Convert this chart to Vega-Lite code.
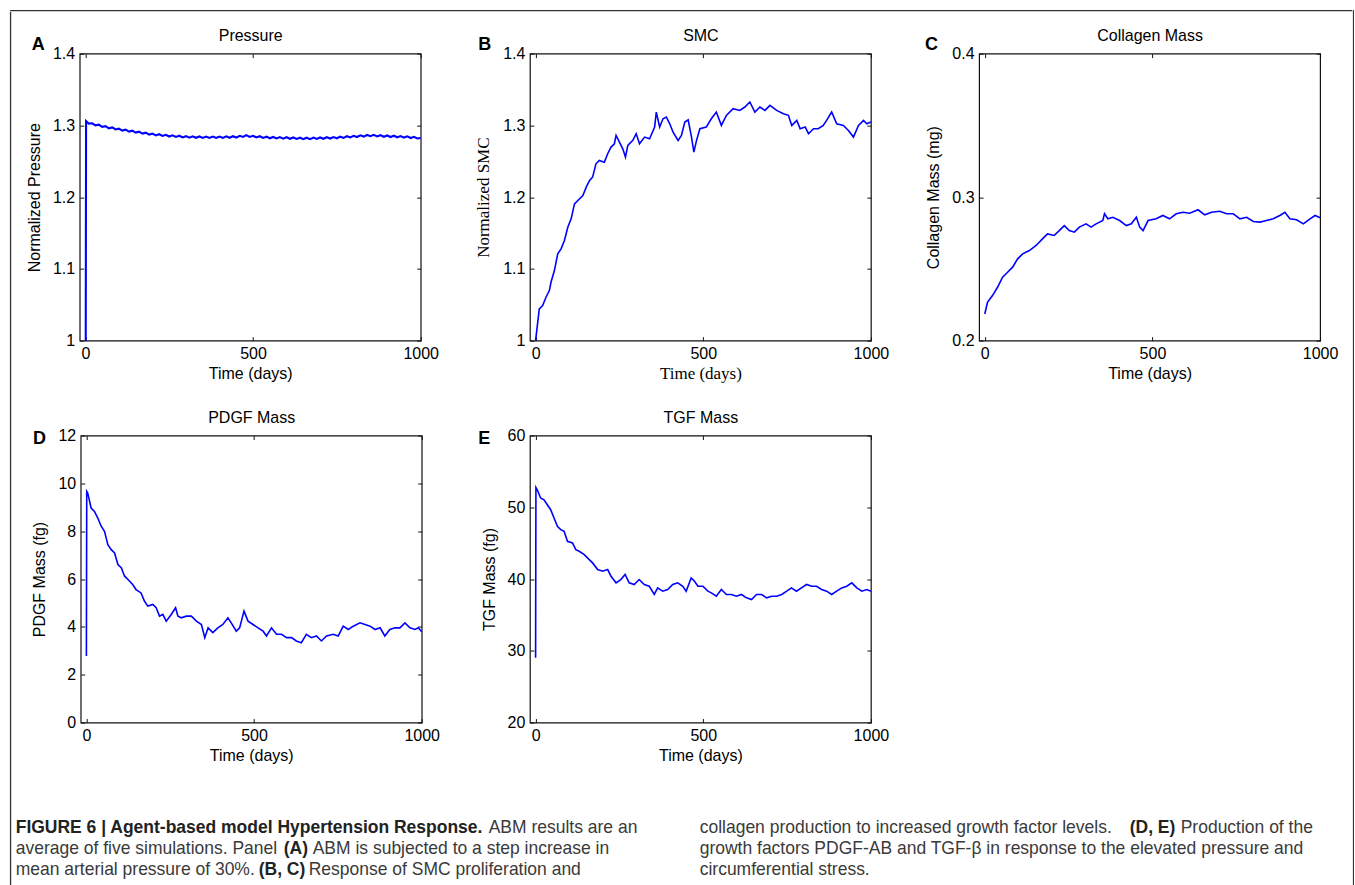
{
  "$schema": "https://vega.github.io/schema/vega-lite/v6.json",
  "padding": {"left": 9.35, "top": 9.35, "right": 0, "bottom": 0},
  "autosize": {"type": "pad"},
  "background": "white",
  "spacing": 0,
  "datasets": {
    "pressure": [
      {"t":1,"v":1.0},{"t":2,"v":1.306},{"t":10,"v":1.3025},{"t":20,"v":1.303},{"t":30,"v":1.3},{"t":40,"v":1.301},{"t":50,"v":1.298},{"t":60,"v":1.299},{"t":70,"v":1.296},{"t":80,"v":1.2972},{"t":90,"v":1.2943},{"t":100,"v":1.2955},{"t":110,"v":1.2928},{"t":120,"v":1.2941},{"t":130,"v":1.2914},{"t":140,"v":1.2927},{"t":150,"v":1.29},{"t":160,"v":1.2913},{"t":170,"v":1.2886},{"t":180,"v":1.2899},{"t":190,"v":1.2872},{"t":200,"v":1.2885},{"t":210,"v":1.2861},{"t":220,"v":1.2877},{"t":230,"v":1.2853},{"t":240,"v":1.2869},{"t":250,"v":1.2845},{"t":260,"v":1.2862},{"t":270,"v":1.2839},{"t":280,"v":1.2856},{"t":290,"v":1.2833},{"t":300,"v":1.285},{"t":310,"v":1.2829},{"t":320,"v":1.2848},{"t":330,"v":1.2827},{"t":340,"v":1.2846},{"t":350,"v":1.2825},{"t":360,"v":1.2845},{"t":370,"v":1.2825},{"t":380,"v":1.2845},{"t":390,"v":1.2825},{"t":400,"v":1.2845},{"t":410,"v":1.2826},{"t":420,"v":1.2847},{"t":430,"v":1.2828},{"t":440,"v":1.2849},{"t":450,"v":1.283},{"t":460,"v":1.2855},{"t":470,"v":1.284},{"t":480,"v":1.2865},{"t":490,"v":1.284},{"t":500,"v":1.2855},{"t":510,"v":1.2832},{"t":520,"v":1.2849},{"t":530,"v":1.2826},{"t":540,"v":1.2843},{"t":550,"v":1.282},{"t":560,"v":1.2839},{"t":570,"v":1.2818},{"t":580,"v":1.2837},{"t":590,"v":1.2816},{"t":600,"v":1.2835},{"t":610,"v":1.2814},{"t":620,"v":1.2832},{"t":630,"v":1.2811},{"t":640,"v":1.2829},{"t":650,"v":1.2808},{"t":660,"v":1.2829},{"t":670,"v":1.2809},{"t":680,"v":1.283},{"t":690,"v":1.2811},{"t":700,"v":1.2832},{"t":710,"v":1.2814},{"t":720,"v":1.2835},{"t":730,"v":1.2817},{"t":740,"v":1.2838},{"t":750,"v":1.282},{"t":760,"v":1.2843},{"t":770,"v":1.2826},{"t":780,"v":1.2849},{"t":790,"v":1.2832},{"t":800,"v":1.2855},{"t":810,"v":1.2838},{"t":820,"v":1.2861},{"t":830,"v":1.2844},{"t":840,"v":1.2867},{"t":850,"v":1.285},{"t":860,"v":1.2868},{"t":870,"v":1.2846},{"t":880,"v":1.2864},{"t":890,"v":1.2842},{"t":900,"v":1.286},{"t":910,"v":1.2838},{"t":920,"v":1.2856},{"t":930,"v":1.2834},{"t":940,"v":1.2852},{"t":950,"v":1.283},{"t":960,"v":1.2847},{"t":970,"v":1.2824},{"t":980,"v":1.2841},{"t":990,"v":1.2818},{"t":1000,"v":1.2825}
    ],
    "smc": [
      {"t":0,"v":1.0},{"t":11,"v":1.0442},{"t":21,"v":1.0488},{"t":31,"v":1.0605},{"t":41,"v":1.0698},{"t":46,"v":1.0814},{"t":56,"v":1.0977},{"t":66,"v":1.1209},{"t":76,"v":1.1279},{"t":86,"v":1.1395},{"t":96,"v":1.1581},{"t":106,"v":1.1698},{"t":116,"v":1.1907},{"t":126,"v":1.1953},{"t":141,"v":1.2023},{"t":151,"v":1.214},{"t":161,"v":1.2233},{"t":170,"v":1.2279},{"t":180,"v":1.2465},{"t":190,"v":1.2512},{"t":205,"v":1.2488},{"t":215,"v":1.2605},{"t":225,"v":1.2698},{"t":235,"v":1.2744},{"t":240,"v":1.286},{"t":250,"v":1.2767},{"t":260,"v":1.2674},{"t":268,"v":1.2558},{"t":275,"v":1.2721},{"t":290,"v":1.2791},{"t":300,"v":1.2884},{"t":310,"v":1.2744},{"t":325,"v":1.2837},{"t":340,"v":1.2814},{"t":355,"v":1.2977},{"t":360,"v":1.3186},{"t":370,"v":1.2977},{"t":380,"v":1.3093},{"t":390,"v":1.3116},{"t":400,"v":1.3023},{"t":410,"v":1.2907},{"t":425,"v":1.2791},{"t":435,"v":1.286},{"t":445,"v":1.3047},{"t":455,"v":1.3079},{"t":465,"v":1.2837},{"t":472,"v":1.2628},{"t":480,"v":1.2791},{"t":490,"v":1.2953},{"t":509,"v":1.2977},{"t":524,"v":1.3093},{"t":539,"v":1.3186},{"t":554,"v":1.3},{"t":569,"v":1.314},{"t":589,"v":1.3233},{"t":609,"v":1.3209},{"t":624,"v":1.3256},{"t":639,"v":1.3326},{"t":654,"v":1.3186},{"t":669,"v":1.3256},{"t":684,"v":1.3209},{"t":699,"v":1.3279},{"t":719,"v":1.3209},{"t":739,"v":1.3163},{"t":754,"v":1.314},{"t":764,"v":1.3},{"t":779,"v":1.307},{"t":789,"v":1.2953},{"t":804,"v":1.2977},{"t":814,"v":1.2884},{"t":829,"v":1.2953},{"t":843,"v":1.2953},{"t":858,"v":1.3},{"t":868,"v":1.307},{"t":883,"v":1.3186},{"t":898,"v":1.3023},{"t":918,"v":1.3},{"t":933,"v":1.293},{"t":948,"v":1.2837},{"t":963,"v":1.3},{"t":978,"v":1.307},{"t":988,"v":1.3023},{"t":1000,"v":1.3047}
    ],
    "collagen": [
      {"t":0,"v":0.2186},{"t":8,"v":0.2267},{"t":23,"v":0.2314},{"t":38,"v":0.2372},{"t":53,"v":0.2442},{"t":68,"v":0.2477},{"t":83,"v":0.2512},{"t":98,"v":0.257},{"t":113,"v":0.2605},{"t":133,"v":0.2628},{"t":153,"v":0.2663},{"t":172,"v":0.2709},{"t":187,"v":0.2744},{"t":207,"v":0.2733},{"t":222,"v":0.2767},{"t":237,"v":0.2802},{"t":252,"v":0.2767},{"t":267,"v":0.2756},{"t":282,"v":0.2791},{"t":302,"v":0.2814},{"t":317,"v":0.2791},{"t":332,"v":0.2814},{"t":352,"v":0.2837},{"t":357,"v":0.2884},{"t":367,"v":0.2849},{"t":382,"v":0.286},{"t":402,"v":0.2837},{"t":422,"v":0.2802},{"t":437,"v":0.2814},{"t":452,"v":0.286},{"t":462,"v":0.2791},{"t":472,"v":0.2767},{"t":487,"v":0.2837},{"t":511,"v":0.2849},{"t":531,"v":0.2872},{"t":551,"v":0.2849},{"t":571,"v":0.2884},{"t":591,"v":0.2895},{"t":611,"v":0.2888},{"t":636,"v":0.2912},{"t":656,"v":0.2877},{"t":676,"v":0.2895},{"t":701,"v":0.2902},{"t":721,"v":0.2884},{"t":741,"v":0.2884},{"t":761,"v":0.2849},{"t":781,"v":0.286},{"t":801,"v":0.283},{"t":821,"v":0.2826},{"t":840,"v":0.2837},{"t":860,"v":0.2849},{"t":880,"v":0.2872},{"t":895,"v":0.2895},{"t":910,"v":0.2849},{"t":930,"v":0.2842},{"t":950,"v":0.2814},{"t":970,"v":0.2849},{"t":985,"v":0.2872},{"t":1000,"v":0.2856}
    ],
    "pdgf": [
      {"t":0,"v":2.78},{"t":1,"v":9.67},{"t":4,"v":9.6},{"t":14,"v":8.97},{"t":24,"v":8.83},{"t":34,"v":8.55},{"t":44,"v":8.21},{"t":54,"v":8.0},{"t":64,"v":7.44},{"t":74,"v":7.23},{"t":84,"v":7.09},{"t":94,"v":6.61},{"t":104,"v":6.47},{"t":114,"v":6.12},{"t":124,"v":5.98},{"t":138,"v":5.77},{"t":148,"v":5.56},{"t":163,"v":5.42},{"t":173,"v":5.08},{"t":183,"v":4.87},{"t":198,"v":4.94},{"t":208,"v":4.8},{"t":218,"v":4.45},{"t":228,"v":4.52},{"t":238,"v":4.24},{"t":253,"v":4.52},{"t":266,"v":4.8},{"t":273,"v":4.45},{"t":283,"v":4.38},{"t":298,"v":4.45},{"t":313,"v":4.45},{"t":328,"v":4.24},{"t":343,"v":4.1},{"t":353,"v":3.55},{"t":363,"v":3.96},{"t":377,"v":3.76},{"t":392,"v":3.96},{"t":407,"v":4.1},{"t":422,"v":4.38},{"t":432,"v":4.17},{"t":447,"v":3.82},{"t":457,"v":3.96},{"t":470,"v":4.66},{"t":482,"v":4.24},{"t":497,"v":4.1},{"t":512,"v":3.96},{"t":527,"v":3.82},{"t":537,"v":3.62},{"t":552,"v":3.96},{"t":567,"v":3.69},{"t":582,"v":3.69},{"t":597,"v":3.55},{"t":612,"v":3.55},{"t":626,"v":3.41},{"t":641,"v":3.34},{"t":656,"v":3.69},{"t":671,"v":3.55},{"t":686,"v":3.62},{"t":701,"v":3.41},{"t":716,"v":3.62},{"t":736,"v":3.69},{"t":751,"v":3.62},{"t":766,"v":4.03},{"t":781,"v":3.89},{"t":796,"v":4.03},{"t":816,"v":4.17},{"t":831,"v":4.1},{"t":846,"v":4.03},{"t":861,"v":3.89},{"t":876,"v":3.96},{"t":890,"v":3.62},{"t":905,"v":3.89},{"t":920,"v":3.96},{"t":935,"v":3.96},{"t":950,"v":4.17},{"t":965,"v":3.96},{"t":980,"v":3.89},{"t":990,"v":3.96},{"t":1000,"v":3.8}
    ],
    "tgf": [
      {"t":0,"v":29.04},{"t":1,"v":52.77},{"t":5,"v":52.44},{"t":15,"v":51.29},{"t":25,"v":51.05},{"t":35,"v":50.36},{"t":45,"v":49.66},{"t":55,"v":48.5},{"t":65,"v":47.35},{"t":75,"v":46.88},{"t":85,"v":46.65},{"t":95,"v":45.26},{"t":110,"v":45.03},{"t":120,"v":44.1},{"t":130,"v":43.87},{"t":145,"v":43.41},{"t":160,"v":42.71},{"t":170,"v":42.25},{"t":185,"v":41.32},{"t":200,"v":41.09},{"t":215,"v":41.32},{"t":225,"v":40.39},{"t":240,"v":39.47},{"t":254,"v":39.93},{"t":267,"v":40.63},{"t":279,"v":39.47},{"t":294,"v":39.24},{"t":309,"v":39.93},{"t":324,"v":39.24},{"t":339,"v":39.0},{"t":354,"v":37.85},{"t":364,"v":38.77},{"t":379,"v":38.31},{"t":394,"v":38.54},{"t":409,"v":39.24},{"t":424,"v":39.47},{"t":439,"v":39.0},{"t":449,"v":38.31},{"t":464,"v":40.16},{"t":474,"v":39.7},{"t":484,"v":39.0},{"t":499,"v":39.0},{"t":514,"v":38.31},{"t":524,"v":38.08},{"t":539,"v":37.61},{"t":554,"v":38.54},{"t":569,"v":37.85},{"t":584,"v":37.85},{"t":599,"v":37.61},{"t":614,"v":37.85},{"t":629,"v":37.38},{"t":644,"v":37.15},{"t":659,"v":37.85},{"t":674,"v":37.85},{"t":689,"v":37.38},{"t":704,"v":37.61},{"t":719,"v":37.61},{"t":734,"v":37.85},{"t":749,"v":38.31},{"t":763,"v":38.77},{"t":778,"v":38.31},{"t":793,"v":38.77},{"t":808,"v":39.24},{"t":823,"v":39.0},{"t":838,"v":39.0},{"t":853,"v":38.54},{"t":868,"v":38.31},{"t":883,"v":37.85},{"t":898,"v":38.31},{"t":913,"v":38.77},{"t":928,"v":39.0},{"t":943,"v":39.47},{"t":958,"v":38.77},{"t":973,"v":38.31},{"t":988,"v":38.54},{"t":1000,"v":38.31}
    ]
  },
  "hconcat": [
    {
      "spacing": 0,
      "vconcat": [
        {"width": 1341, "height": 0.01, "data": {"values": []}, "mark": "point", "view": {"stroke": "#333333", "strokeWidth": 1.3}},
        {
          "spacing": 3.35,
          "hconcat": [
            {"width": 0.01, "height": 900, "data": {"values": []}, "mark": "point", "view": {"stroke": "#333333", "strokeWidth": 1.3}},
            {
              "spacing": 13.3,
              "vconcat": [
                {"width": 0.01, "height": 0.01, "data": {"values": []}, "mark": "point", "view": {"stroke": "white", "strokeWidth": 0.01}},
                {
                  "spacing": 51,
                  "vconcat": [
                    {
                      "spacing": 25.9,
                      "vconcat": [
                        {
                          "spacing": 9,
                          "hconcat": [
                            {"width": 0.01, "height": 0.01, "data": {"values": []}, "mark": "point", "view": {"stroke": "white", "strokeWidth": 0.01}},
                            {
                              "spacing": 34.2,
                              "hconcat": [
                                {
                                  "width": 341, "height": 287,
                                  "layer": [
                                    {"data": {"name": "pressure"}, "mark": {"type": "line", "color": "#0000ff", "strokeWidth": 2.1},
                                     "encoding": {
                                       "x": {"field": "t", "type": "quantitative", "scale": {"domain": [-17, 1000], "nice": false, "zero": false}, "axis": {"orient": "bottom", "values": [0, 500, 1000], "format": "d", "title": "Time (days)"}},
                                       "y": {"field": "v", "type": "quantitative", "scale": {"domain": [1, 1.4], "nice": false, "zero": false}, "axis": {"orient": "left", "values": [1, 1.1, 1.2, 1.3, 1.4], "format": "~g", "title": "Normalized Pressure"}}
                                     }},
                                    {"data": {"values": [{"label": "A"}]}, "mark": {"type": "text", "font": "Liberation Sans", "fontWeight": "bold", "fontSize": 18, "align": "left", "baseline": "alphabetic", "color": "#000"},
                                     "encoding": {
                                       "x": {"datum": -160, "type": "quantitative", "scale": {"domain": [-17, 1000], "nice": false, "zero": false}, "axis": {"orient": "top", "values": [0, 500, 1000], "labels": false, "title": "Pressure"}},
                                       "y": {"datum": 1.4056, "type": "quantitative", "scale": {"domain": [1, 1.4], "nice": false, "zero": false}, "axis": {"orient": "right", "values": [1, 1.1, 1.2, 1.3, 1.4], "labels": false, "title": null}},
                                       "text": {"field": "label"}
                                     }}
                                  ],
                                  "resolve": {"axis": {"x": "independent", "y": "independent"}}
                                },
                                {
                                  "width": 341, "height": 287,
                                  "layer": [
                                    {"data": {"name": "smc"}, "mark": {"type": "line", "color": "#0000ff", "strokeWidth": 1.6},
                                     "encoding": {
                                       "x": {"field": "t", "type": "quantitative", "scale": {"domain": [-17, 1000], "nice": false, "zero": false}, "axis": {"orient": "bottom", "values": [0, 500, 1000], "format": "d", "title": "Time (days)", "titleFont": "Liberation Serif", "titleFontSize": 17}},
                                       "y": {"field": "v", "type": "quantitative", "scale": {"domain": [1, 1.4], "nice": false, "zero": false}, "axis": {"orient": "left", "values": [1, 1.1, 1.2, 1.3, 1.4], "format": "~g", "title": "Normalized SMC", "titleFont": "Liberation Serif", "titleFontSize": 17}}
                                     }},
                                    {"data": {"values": [{"label": "B"}]}, "mark": {"type": "text", "font": "Liberation Sans", "fontWeight": "bold", "fontSize": 18, "align": "left", "baseline": "alphabetic", "color": "#000"},
                                     "encoding": {
                                       "x": {"datum": -171, "type": "quantitative", "scale": {"domain": [-17, 1000], "nice": false, "zero": false}, "axis": {"orient": "top", "values": [0, 500, 1000], "labels": false, "title": "SMC"}},
                                       "y": {"datum": 1.4056, "type": "quantitative", "scale": {"domain": [1, 1.4], "nice": false, "zero": false}, "axis": {"orient": "right", "values": [1, 1.1, 1.2, 1.3, 1.4], "labels": false, "title": null}},
                                       "text": {"field": "label"}
                                     }}
                                  ],
                                  "resolve": {"axis": {"x": "independent", "y": "independent"}}
                                },
                                {
                                  "width": 341, "height": 287,
                                  "layer": [
                                    {"data": {"name": "collagen"}, "mark": {"type": "line", "color": "#0000ff", "strokeWidth": 1.6},
                                     "encoding": {
                                       "x": {"field": "t", "type": "quantitative", "scale": {"domain": [-17, 1000], "nice": false, "zero": false}, "axis": {"orient": "bottom", "values": [0, 500, 1000], "format": "d", "title": "Time (days)"}},
                                       "y": {"field": "v", "type": "quantitative", "scale": {"domain": [0.2, 0.4], "nice": false, "zero": false}, "axis": {"orient": "left", "values": [0.2, 0.3, 0.4], "format": "~g", "title": "Collagen Mass (mg)"}}
                                     }},
                                    {"data": {"values": [{"label": "C"}]}, "mark": {"type": "text", "font": "Liberation Sans", "fontWeight": "bold", "fontSize": 18, "align": "left", "baseline": "alphabetic", "color": "#000"},
                                     "encoding": {
                                       "x": {"datum": -178, "type": "quantitative", "scale": {"domain": [-17, 1000], "nice": false, "zero": false}, "axis": {"orient": "top", "values": [0, 500, 1000], "labels": false, "title": "Collagen Mass"}},
                                       "y": {"datum": 0.4028, "type": "quantitative", "scale": {"domain": [0.2, 0.4], "nice": false, "zero": false}, "axis": {"orient": "right", "values": [0.2, 0.3, 0.4], "labels": false, "title": null}},
                                       "text": {"field": "label"}
                                     }}
                                  ],
                                  "resolve": {"axis": {"x": "independent", "y": "independent"}}
                                }
                              ]
                            }
                          ]
                        },
                        {
                          "spacing": 14,
                          "hconcat": [
                            {"width": 0.01, "height": 0.01, "data": {"values": []}, "mark": "point", "view": {"stroke": "white", "strokeWidth": 0.01}},
                            {
                              "spacing": 36.2,
                              "hconcat": [
                                {
                                  "width": 341, "height": 287,
                                  "layer": [
                                    {"data": {"name": "pdgf"}, "mark": {"type": "line", "color": "#0000ff", "strokeWidth": 1.6},
                                     "encoding": {
                                       "x": {"field": "t", "type": "quantitative", "scale": {"domain": [-17, 1000], "nice": false, "zero": false}, "axis": {"orient": "bottom", "values": [0, 500, 1000], "format": "d", "title": "Time (days)"}},
                                       "y": {"field": "v", "type": "quantitative", "scale": {"domain": [0, 12], "nice": false, "zero": false}, "axis": {"orient": "left", "values": [0, 2, 4, 6, 8, 10, 12], "format": "d", "title": "PDGF Mass (fg)"}}
                                     }},
                                    {"data": {"values": [{"label": "D"}]}, "mark": {"type": "text", "font": "Liberation Sans", "fontWeight": "bold", "fontSize": 18, "align": "left", "baseline": "alphabetic", "color": "#000"},
                                     "encoding": {
                                       "x": {"datum": -159, "type": "quantitative", "scale": {"domain": [-17, 1000], "nice": false, "zero": false}, "axis": {"orient": "top", "values": [0, 500, 1000], "labels": false, "title": "PDGF Mass"}},
                                       "y": {"datum": 11.64, "type": "quantitative", "scale": {"domain": [0, 12], "nice": false, "zero": false}, "axis": {"orient": "right", "values": [0, 2, 4, 6, 8, 10, 12], "labels": false, "title": null}},
                                       "text": {"field": "label"}
                                     }}
                                  ],
                                  "resolve": {"axis": {"x": "independent", "y": "independent"}}
                                },
                                {
                                  "width": 341, "height": 287,
                                  "layer": [
                                    {"data": {"name": "tgf"}, "mark": {"type": "line", "color": "#0000ff", "strokeWidth": 1.6},
                                     "encoding": {
                                       "x": {"field": "t", "type": "quantitative", "scale": {"domain": [-17, 1000], "nice": false, "zero": false}, "axis": {"orient": "bottom", "values": [0, 500, 1000], "format": "d", "title": "Time (days)"}},
                                       "y": {"field": "v", "type": "quantitative", "scale": {"domain": [20, 60], "nice": false, "zero": false}, "axis": {"orient": "left", "values": [20, 30, 40, 50, 60], "format": "d", "title": "TGF Mass (fg)"}}
                                     }},
                                    {"data": {"values": [{"label": "E"}]}, "mark": {"type": "text", "font": "Liberation Sans", "fontWeight": "bold", "fontSize": 18, "align": "left", "baseline": "alphabetic", "color": "#000"},
                                     "encoding": {
                                       "x": {"datum": -171, "type": "quantitative", "scale": {"domain": [-17, 1000], "nice": false, "zero": false}, "axis": {"orient": "top", "values": [0, 500, 1000], "labels": false, "title": "TGF Mass"}},
                                       "y": {"datum": 58.8, "type": "quantitative", "scale": {"domain": [20, 60], "nice": false, "zero": false}, "axis": {"orient": "right", "values": [20, 30, 40, 50, 60], "labels": false, "title": null}},
                                       "text": {"field": "label"}
                                     }}
                                  ],
                                  "resolve": {"axis": {"x": "independent", "y": "independent"}}
                                }
                              ]
                            }
                          ]
                        }
                      ]
                    },
                    {
                      "width": 1310, "height": 66,
                      "view": {"stroke": null},
                      "encoding": {
                        "x": {"type": "quantitative", "scale": {"domain": [0, 1310], "nice": false, "zero": false}, "axis": null},
                        "y": {"type": "quantitative", "scale": {"domain": [0, 66], "reverse": true, "nice": false, "zero": false}, "axis": null},
                        "text": {"field": "text"}
                      },
                      "layer": [
                        {"data": {"values": [{"text": "FIGURE 6 | Agent-based model Hypertension Response."}]}, "mark": {"type": "text", "align": "left", "baseline": "alphabetic", "font": "Liberation Sans", "fontWeight": "bold", "fontSize": 17.5, "color": "#222"}, "encoding": {"x": {"datum": 0}, "y": {"datum": 17}}},
                        {"data": {"values": [{"text": "ABM results are an"}]}, "mark": {"type": "text", "align": "left", "baseline": "alphabetic", "font": "Liberation Sans", "fontSize": 17.5, "color": "#3a3a3a"}, "encoding": {"x": {"datum": 473}, "y": {"datum": 17}}},
                        {"data": {"values": [{"text": "average of five simulations. Panel"}]}, "mark": {"type": "text", "align": "left", "baseline": "alphabetic", "font": "Liberation Sans", "fontSize": 17.5, "color": "#3a3a3a"}, "encoding": {"x": {"datum": 0}, "y": {"datum": 38}}},
                        {"data": {"values": [{"text": "(A)"}]}, "mark": {"type": "text", "align": "left", "baseline": "alphabetic", "font": "Liberation Sans", "fontWeight": "bold", "fontSize": 17.5, "color": "#222"}, "encoding": {"x": {"datum": 268}, "y": {"datum": 38}}},
                        {"data": {"values": [{"text": "ABM is subjected to a step increase in"}]}, "mark": {"type": "text", "align": "left", "baseline": "alphabetic", "font": "Liberation Sans", "fontSize": 17.5, "color": "#3a3a3a"}, "encoding": {"x": {"datum": 297}, "y": {"datum": 38}}},
                        {"data": {"values": [{"text": "mean arterial pressure of 30%."}]}, "mark": {"type": "text", "align": "left", "baseline": "alphabetic", "font": "Liberation Sans", "fontSize": 17.5, "color": "#3a3a3a"}, "encoding": {"x": {"datum": 0}, "y": {"datum": 59}}},
                        {"data": {"values": [{"text": "(B, C)"}]}, "mark": {"type": "text", "align": "left", "baseline": "alphabetic", "font": "Liberation Sans", "fontWeight": "bold", "fontSize": 17.5, "color": "#222"}, "encoding": {"x": {"datum": 243}, "y": {"datum": 59}}},
                        {"data": {"values": [{"text": "Response of SMC proliferation and"}]}, "mark": {"type": "text", "align": "left", "baseline": "alphabetic", "font": "Liberation Sans", "fontSize": 17.5, "color": "#3a3a3a"}, "encoding": {"x": {"datum": 293}, "y": {"datum": 59}}},
                        {"data": {"values": [{"text": "collagen production to increased growth factor levels."}]}, "mark": {"type": "text", "align": "left", "baseline": "alphabetic", "font": "Liberation Sans", "fontSize": 17.5, "color": "#3a3a3a"}, "encoding": {"x": {"datum": 684}, "y": {"datum": 17}}},
                        {"data": {"values": [{"text": "(D, E)"}]}, "mark": {"type": "text", "align": "left", "baseline": "alphabetic", "font": "Liberation Sans", "fontWeight": "bold", "fontSize": 17.5, "color": "#222"}, "encoding": {"x": {"datum": 1114}, "y": {"datum": 17}}},
                        {"data": {"values": [{"text": "Production of the"}]}, "mark": {"type": "text", "align": "left", "baseline": "alphabetic", "font": "Liberation Sans", "fontSize": 17.5, "color": "#3a3a3a"}, "encoding": {"x": {"datum": 1165}, "y": {"datum": 17}}},
                        {"data": {"values": [{"text": "growth factors PDGF-AB and TGF-β in response to the elevated pressure and"}]}, "mark": {"type": "text", "align": "left", "baseline": "alphabetic", "font": "Liberation Sans", "fontSize": 17.5, "color": "#3a3a3a"}, "encoding": {"x": {"datum": 684}, "y": {"datum": 38}}},
                        {"data": {"values": [{"text": "circumferential stress."}]}, "mark": {"type": "text", "align": "left", "baseline": "alphabetic", "font": "Liberation Sans", "fontSize": 17.5, "color": "#3a3a3a"}, "encoding": {"x": {"datum": 684}, "y": {"datum": 59}}}
                      ]
                    }
                  ]
                }
              ]
            }
          ]
        }
      ]
    },
    {"width": 0.01, "height": 900, "data": {"values": []}, "mark": "point", "view": {"stroke": "#333333", "strokeWidth": 1.3}}
  ],
  "config": {
    "view": {"stroke": "#111111", "strokeWidth": 1.2},
    "axis": {
      "domain": false,
      "grid": false,
      "tickColor": "#111111",
      "tickSize": -4,
      "tickWidth": 1,
      "labelFont": "Liberation Sans",
      "labelFontSize": 16,
      "labelColor": "#000000",
      "labelFlush": false,
      "labelPadding": 9,
      "titleFont": "Liberation Sans",
      "titleFontSize": 16,
      "titleFontWeight": "normal",
      "titleColor": "#000000"
    },
    "axisBottom": {"titlePadding": 4},
    "axisLeft": {"titlePadding": 10},
    "axisTop": {"titlePadding": 9.5}
  }
}
